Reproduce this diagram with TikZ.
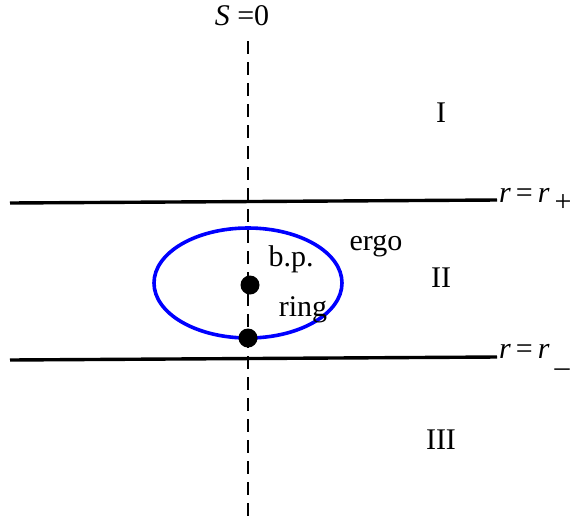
\documentclass[tikz,border=0pt]{standalone}
\usepackage{fontspec}
\setmainfont{Liberation Serif}
\newcommand{\sub}[1]{\raisebox{-0.6ex}{#1}}
\begin{document}
\begin{tikzpicture}[x=1pt, y=-1pt, font=\fontsize{30}{34}\selectfont,
	horizon/.style={line width=3.4pt},
	dot/.style={circle, fill=black, inner sep=0pt, minimum size=19pt},
	lbl/.style={inner sep=0pt}]
	\useasboundingbox (0,0) rectangle (576,523);
	\coordinate (axtop) at (248,41);
	\coordinate (axbot) at (248,521);
	\draw[line width=2pt, dash pattern=on 13pt off 8pt] (axtop) -- (axbot); % S = 0
	\node[lbl] (s0) at (242,16) {\textit{S} =0};
	% horizons
	\coordinate (hpl) at (10,203);
	\coordinate (hpr) at (497,200);
	\coordinate (hml) at (10,360);
	\coordinate (hmr) at (497,357);
	\draw[horizon] (hpl) -- (hpr);
	\draw[horizon] (hml) -- (hmr);
	\node[lbl, anchor=west] (rp) at (499,200) {\textit{r}\,=\,\textit{r}\,\sub{+}};
	\node[lbl, anchor=west] (rm) at (499,357) {\textit{r}\,=\,\textit{r}\,\sub{\_}};
	% ergosphere
	\draw[blue, line width=3.6pt] (248,283) ellipse (94pt and 55pt);
	\node[dot] (bp) at (250,285) {};
	\node[dot] (ring) at (248,338) {};
	\node[lbl] (ergolbl) at (376,246) {ergo};
	\node[lbl] (bplbl) at (291,259) {b.p.};
	\node[lbl] (ringlbl) at (303,310) {ring};
	% regions
	\node[lbl] (rI) at (441,113) {I};
	\node[lbl] (rII) at (441,278) {II};
	\node[lbl] (rIII) at (441,440) {III};
\end{tikzpicture}
\end{document}
